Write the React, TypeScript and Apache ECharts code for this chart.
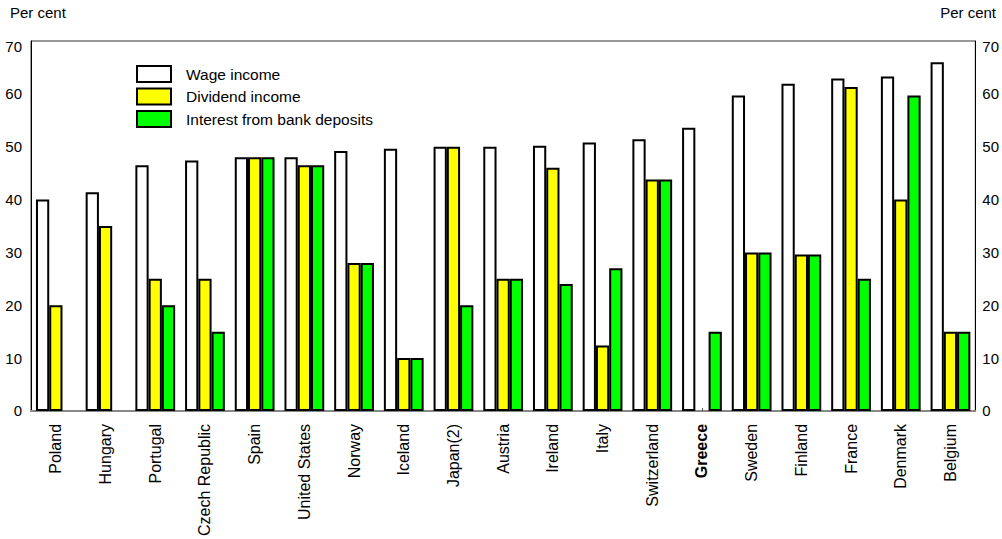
import React, { useEffect, useRef } from "react";
import * as echarts from "echarts";

const categories = ["Poland", "Hungary", "Portugal", "Czech Republic", "Spain", "United States", "Norway", "Iceland", "Japan(2)", "Austria", "Ireland", "Italy", "Switzerland", "Greece", "Sweden", "Finland", "France", "Denmark", "Belgium"];
const wageIncome = [40, 41.4, 46.5, 47.4, 48, 48, 49.2, 49.6, 50, 50, 50.2, 50.8, 51.4, 53.6, 59.7, 61.9, 62.9, 63.3, 66];
const dividendIncome = [20, 35, 25, 25, 48, 46.5, 28, 10, 50, 25, 46, 12.4, 43.8, null, 30, 29.6, 61.3, 40, 15];
const interestIncome = [null, null, 20, 15, 48, 46.5, 28, 10, 20, 25, 24, 27, 43.8, 15, 30, 29.6, 25, 59.7, 15];
const yTicks = { min: 0, max: 70, interval: 10 };

const font = "Liberation Sans, Arial, sans-serif";
const fs = 15;

export default function App() {
  const ref = useRef<HTMLDivElement>(null);
  useEffect(() => {
    if (!ref.current) return;
    const chart = echarts.init(ref.current, undefined, { renderer: "svg" });
    const barStyle = (color: string) => ({ color, borderColor: "#000", borderWidth: 2 });
    const yLabel = (margin: number) => ({
      fontSize: fs,
      color: "#000",
      margin,
      fontFamily: font,
      formatter: (v: number) => (v === 70 ? `{t|${v}}` : `${v}`),
      rich: { t: { fontSize: fs, color: "#000", fontFamily: font, padding: [11, 0, 0, 0] } },
    });
    chart.setOption({
      animation: false,
      textStyle: { fontFamily: font },
      grid: { left: 31, right: 26, top: 41, bottom: 127, show: true, borderColor: "#333", borderWidth: 1, backgroundColor: "transparent" },
      legend: {
        left: 136,
        top: 65,
        padding: 0,
        orient: "vertical",
        icon: "rect",
        itemWidth: 34,
        itemHeight: 16,
        itemGap: 4.5,
        textStyle: { fontSize: 15.5, color: "#000", fontFamily: font, padding: [0, 0, 0, 10], lineHeight: 16 },
        data: ["Wage income", "Dividend income", "Interest from bank deposits"],
      },
      graphic: [
        { type: "text", left: 10, top: 5, style: { text: "Per cent", fontSize: fs, fill: "#000", fontFamily: font } },
        { type: "text", right: 6, top: 5, style: { text: "Per cent", fontSize: fs, fill: "#000", fontFamily: font } },
      ],
      xAxis: {
        type: "category",
        data: categories,
        axisLine: { lineStyle: { color: "#888", width: 2 } },
        axisTick: { show: true, inside: true, length: 3, alignWithLabel: true, lineStyle: { color: "#555" } },
        axisLabel: {
          rotate: 90,
          margin: 13,
          fontSize: 16,
          color: "#000",
          fontFamily: font,
          interval: 0,
          formatter: (v: string) => (v === "Greece" ? `{b|${v}}` : v),
          rich: { b: { fontWeight: "bold", fontSize: 16, color: "#000", fontFamily: font } },
        },
      },
      yAxis: [
        {
          type: "value",
          ...yTicks,
          position: "left",
          axisLine: { show: true, lineStyle: { color: "#000" } },
          axisTick: { show: false },
          splitLine: { show: false },
          axisLabel: yLabel(9),
        },
        {
          type: "value",
          ...yTicks,
          position: "right",
          axisLine: { show: true, lineStyle: { color: "#000" } },
          axisTick: { show: false },
          splitLine: { show: false },
          axisLabel: yLabel(7),
        },
      ],
      series: [
        { name: "Wage income", type: "bar", data: wageIncome, itemStyle: barStyle("#ffffff"), barGap: "0%", barCategoryGap: "20%" },
        { name: "Dividend income", type: "bar", data: dividendIncome, itemStyle: barStyle("#ffff00"), barGap: "0%", barCategoryGap: "20%" },
        { name: "Interest from bank deposits", type: "bar", data: interestIncome, itemStyle: barStyle("#00ff00"), barGap: "0%", barCategoryGap: "20%" },
      ],
    });
    return () => chart.dispose();
  }, []);
  return <div ref={ref} style={{ width: 1002, height: 539, position: "absolute", left: 0, top: 0 }} />;
}
